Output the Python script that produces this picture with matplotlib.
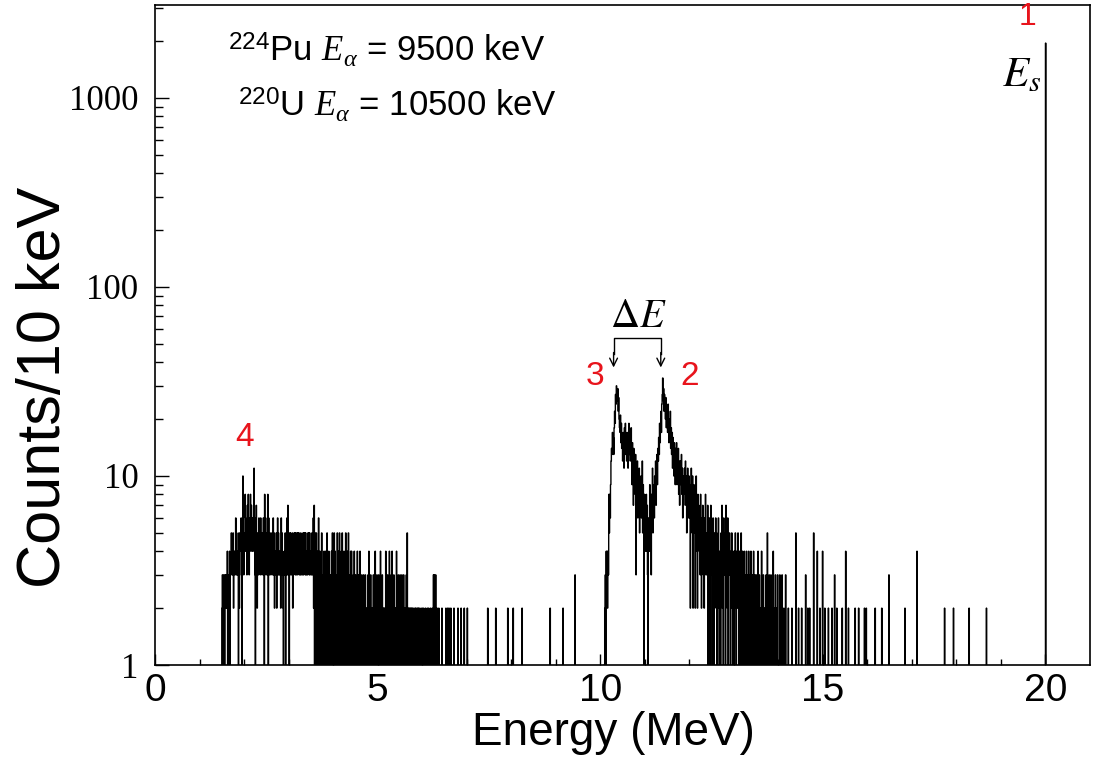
import numpy as np
import matplotlib.pyplot as plt
from matplotlib.ticker import FixedLocator, LogLocator, NullFormatter, FixedFormatter

bin_width = 0.01   # MeV (10 keV bins)
e_max = 21.0

# counts per 10 keV bin, one char per bin (base 36: a=10, b=11 ... x=33)
# each string = 0.1 MeV
low_start = 1.50
low_rows = [
    "2302330232", "3240332403", "3543352443", "4635343052", "3546405a43",
    "5486453748", "5364857465", "46b5306752", "4536453645", "3546308463",
    "4538065354", "3454363524", "4352463534", "3426354203", "4350436374",
    "3053543452", "4354535345", "3545343534", "4353545353", "3435453534",
    "4353462705", "3050403620", "4030520304", "2040305203", "4020304053",
    "2050403205", "3040502043", "5020403050", "2040503024", "0402030402",
    "3020403020", "4020302030", "2030202030", "4020302020", "3020402030",
    "2030204020", "3020202040", "2030204020", "3040203020", "2040203020",
    "3020302030", "2020305020", "2020202020", "0200202002", "0202000200",
    "2002000200", "0200200020", "0020030300", "3002000200", "0000200000",
    "0002000200", "2000200000", "0200000000", "2000000200", "0000200000",
    "0200000000",
]

peak_start = 10.00
peak_rows = [
    "0000000010", "2304342438", "5869cedhfg", "dimjrouspt", "mqkihlfjeg",
    "chfbiejdgc", "hebfjdgcfi", "d9fb7eac8d", "3b9c6a8b59", "7a68c59708",
    "6458473064", "5947386b57", "96a8c7bd9e", "cgdjfimhor", "xptmrokqin",
    "lhojfkgmei", "dhbgeafc9e", "bf9dae8c7b", "c9d8b6a79b", "8c7a59b68a",
    "6928b75a27", "95826a4728", "5746385264", "7352648335", "4705360473",
    "5046305246", "3504263043", "0537240635", "4073526043", "5304253042",
    "0435204325", "3042305204", "2304203240", "3024032042", "0320402302",
    "3020420302", "0240203020", "2030250203", "0203020040", "2003002030",
]

# isolated bins: energy (MeV), counts
single_e = [7.47, 7.65, 7.92, 8.04, 8.24, 8.87, 9.16, 9.43,
            14.03, 14.08, 14.12, 14.16, 14.22, 14.30, 14.39, 14.45, 14.52,
            14.61, 14.66, 14.70, 14.79, 14.87, 14.93, 14.99, 15.04, 15.12,
            15.20, 15.26, 15.31, 15.43, 15.51, 15.57, 15.72, 15.80, 15.93,
            15.97, 16.17, 16.32, 16.48, 16.84, 17.11, 17.73, 17.93, 18.28,
            18.67, 20.00]
single_n = [2, 2, 2, 2, 2, 2, 2, 3,
            3, 3, 2, 3, 2, 2, 5, 2, 2,
            3, 2, 2, 5, 4, 2, 4, 2, 2,
            2, 3, 2, 2, 4, 2, 2, 2, 2,
            2, 2, 2, 3, 2, 4, 2, 2, 2,
            2, 1950]

n_bins = int(round(e_max / bin_width))
edges = np.arange(n_bins + 1) * bin_width
counts = np.zeros(n_bins)


def put(start, rows):
    vals = [int(c, 36) for c in "".join(rows)]
    i0 = int(round(start / bin_width))
    counts[i0:i0 + len(vals)] = vals


put(low_start, low_rows)
put(peak_start, peak_rows)
for e, n in zip(single_e, single_n):
    counts[int(round(e / bin_width))] = n

sans = ['Liberation Sans', 'DejaVu Sans']
serif = ['Liberation Serif', 'DejaVu Serif']
plt.rcParams['font.family'] = sans
plt.rcParams['mathtext.fontset'] = 'custom'
plt.rcParams['mathtext.rm'] = 'Liberation Sans'
plt.rcParams['mathtext.it'] = 'Liberation Serif:italic'

fig = plt.figure(figsize=(10.97, 7.61), dpi=100)
ax = fig.add_axes([0.1413, 0.1261, 0.8523, 0.8673])

ax.stairs(np.where(counts > 0, counts, 0.5), edges, baseline=None,
          color='black', lw=1.0)

ax.set_yscale('log')
ax.set_xlim(0, e_max)
ax.set_ylim(1, 3100)

ax.xaxis.set_major_locator(FixedLocator([0, 5, 10, 15, 20]))
ax.xaxis.set_minor_locator(FixedLocator(np.arange(0, 21, 1)))
ax.yaxis.set_major_locator(FixedLocator([1, 10, 100, 1000]))
ax.yaxis.set_major_formatter(FixedFormatter(['1', '10', '100', '1000']))
ax.yaxis.set_minor_locator(LogLocator(base=10, subs=np.arange(2, 10), numticks=20))
ax.yaxis.set_minor_formatter(NullFormatter())

ax.tick_params(axis='x', which='major', direction='in', length=8, width=1,
               labelsize=28, pad=6, top=False)
ax.tick_params(axis='x', which='minor', direction='in', length=4, width=1, top=False)
ax.tick_params(axis='y', which='major', direction='in', length=10, width=1,
               labelsize=25, pad=12, right=False)
ax.tick_params(axis='y', which='minor', direction='in', length=6, width=1, right=False)
for lab in ax.get_yticklabels():
    lab.set_family(serif)
for sp in ax.spines.values():
    sp.set_linewidth(1.2)

ax.set_xlabel('Energy (MeV)', fontsize=33)
ax.xaxis.set_label_coords(0.49, -0.069)
ax.set_ylabel('Counts/10 keV', fontsize=44)
ax.yaxis.set_label_coords(-0.088, 0.42)

ax.text(0.078, 0.932, r'$^{224}$Pu $E_{\alpha}$ = 9500 keV', transform=ax.transAxes,
        fontsize=25, ha='left', va='center')
ax.text(0.089, 0.848, r'$^{220}$U $E_{\alpha}$ = 10500 keV', transform=ax.transAxes,
        fontsize=25, ha='left', va='center')

red = '#e8141c'
ax.text(0.933, 0.982, '1', transform=ax.transAxes, color=red, fontsize=23,
        ha='center', va='center')
ax.text(0.927, 0.894, r'$E_s$', transform=ax.transAxes, fontsize=31,
        ha='center', va='center', math_fontfamily='stix')
ax.text(9.88, 33.4, '3', color=red, fontsize=24, ha='center', va='center')
ax.text(12.0, 33.4, '2', color=red, fontsize=24, ha='center', va='center')
ax.text(2.02, 15.9, '4', color=red, fontsize=24, ha='center', va='center')

ax.text(10.86, 70, r'$\Delta E$', fontsize=29, ha='center', va='center',
        math_fontfamily='stix')
ax.plot([10.30, 10.30, 11.36, 11.36], [44, 53.7, 53.7, 44], color='black', lw=1)
for xa in (10.30, 11.36):
    ax.annotate('', xy=(xa, 37.5), xytext=(xa, 45),
                arrowprops=dict(arrowstyle='->', color='black', lw=1,
                                shrinkA=0, shrinkB=0, mutation_scale=14))

fig.savefig('out.png', dpi=100)
